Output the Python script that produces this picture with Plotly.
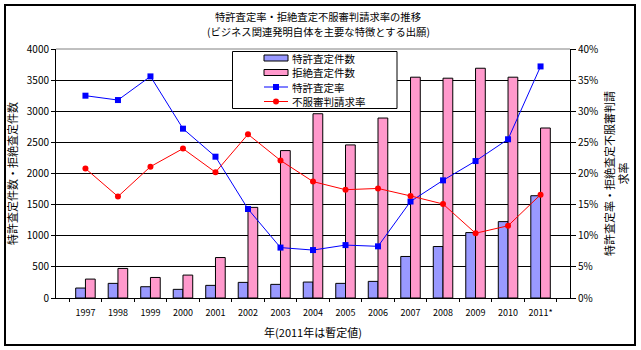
import plotly.graph_objects as go

years = ["1997", "1998", "1999", "2000", "2001", "2002", "2003", "2004",
         "2005", "2006", "2007", "2008", "2009", "2010", "2011*"]
grant_counts = [160, 235, 181, 139, 203, 251, 219, 256, 235, 267, 667, 827, 1051, 1227, 1643]
reject_counts = [304, 475, 330, 368, 650, 1456, 2368, 2960, 2459, 2891, 3547, 3531, 3691, 3547, 2731]
grant_rate = [32.5, 31.8, 35.6, 27.2, 22.7, 14.3, 8.1, 7.7, 8.5, 8.3, 15.5, 18.9, 22.0, 25.5, 37.2]
appeal_rate = [20.8, 16.3, 21.1, 24.0, 20.2, 26.3, 22.1, 18.7, 17.4, 17.6, 16.4, 15.1, 10.4, 11.6, 16.6]
series_names = ["特許査定件数", "拒絶査定件数", "特許査定率", "不服審判請求率"]

FONT = "Noto Sans CJK JP"
W, H = 641, 350
L, R, T, B = 56, 71, 49, 52
pw, ph = W - L - R, H - T - B

BLUE_BAR, PINK_BAR = "#9999FF", "#FF99CC"
BLUE, RED = "#0000FF", "#FF0000"

fig = go.Figure()
fig.add_trace(go.Bar(x=years, y=grant_counts, name=series_names[0],
                     marker=dict(color=BLUE_BAR, line=dict(color="black", width=1))))
fig.add_trace(go.Bar(x=years, y=reject_counts, name=series_names[1],
                     marker=dict(color=PINK_BAR, line=dict(color="black", width=1))))
fig.add_trace(go.Scatter(x=years, y=grant_rate, name=series_names[2], yaxis="y2",
                         mode="lines+markers", line=dict(color=BLUE, width=1),
                         marker=dict(symbol="square", size=6, color=BLUE)))
fig.add_trace(go.Scatter(x=years, y=appeal_rate, name=series_names[3], yaxis="y2",
                         mode="lines+markers", line=dict(color=RED, width=1),
                         marker=dict(symbol="circle", size=6, color=RED)))

def px(x):
    return (x - L) / pw

def py(y):
    return (H - B - y) / ph

rows_y = [58, 72.5, 87, 101.5]

shapes = [
    dict(type="rect", xref="paper", yref="paper",
         x0=px(5), x1=px(635), y0=py(345), y1=py(5),
         line=dict(color="black", width=2), fillcolor="rgba(0,0,0,0)", layer="above"),
    dict(type="line", xref="paper", yref="paper", x0=0, x1=1, y0=1, y1=1,
         line=dict(color="#808080", width=1), layer="above"),
    # legend box
    dict(type="rect", xref="paper", yref="paper",
         x0=px(232.5), x1=px(397), y0=py(108.5), y1=py(51.5),
         line=dict(color="black", width=1), fillcolor="white", layer="above"),
]
annotations = [
    dict(text="特許査定率・拒絶査定不服審判請求率の推移", xref="paper", yref="paper",
         x=px(318), y=py(16.5), xanchor="center", yanchor="middle", showarrow=False,
         borderpad=0, font=dict(family=FONT, size=10.3)),
    dict(text="(ビジネス関連発明自体を主要な特徴とする出願)", xref="paper", yref="paper",
         x=px(318), y=py(31.5), xanchor="center", yanchor="middle", showarrow=False,
         borderpad=0, font=dict(family=FONT, size=10.3)),
]

sx0, sx1 = 264, 288
for i, col in enumerate([BLUE_BAR, PINK_BAR]):
    yc = rows_y[i]
    shapes.append(dict(type="rect", xref="paper", yref="paper",
                       x0=px(sx0), x1=px(sx1), y0=py(yc + 3), y1=py(yc - 3),
                       line=dict(color="black", width=1), fillcolor=col, layer="above"))
for i, (col, sym) in enumerate([(BLUE, "square"), (RED, "circle")]):
    yc = rows_y[i + 2]
    shapes.append(dict(type="line", xref="paper", yref="paper",
                       x0=px(sx0), x1=px(sx1), y0=py(yc), y1=py(yc),
                       line=dict(color=col, width=1), layer="above"))
    mc = (sx0 + sx1) / 2
    shapes.append(dict(type="rect" if sym == "square" else "circle", xref="paper", yref="paper",
                       x0=px(mc - 3), x1=px(mc + 3), y0=py(yc + 3), y1=py(yc - 3),
                       line=dict(color=col, width=0), fillcolor=col, layer="above"))
for i, name in enumerate(series_names):
    annotations.append(dict(text=name, xref="paper", yref="paper",
                            x=px(291), y=py(rows_y[i]), xanchor="left", yanchor="middle",
                            showarrow=False, borderpad=0, font=dict(family=FONT, size=10.5)))

fig.update_layout(
    width=W, height=H,
    margin=dict(l=L, r=R, t=T, b=B),
    paper_bgcolor="white", plot_bgcolor="white",
    font=dict(family=FONT, size=10, color="black"),
    barmode="group", bargap=0.4, bargroupgap=0,
    showlegend=False,
    xaxis=dict(type="category", showline=True, linecolor="black", linewidth=1,
               ticks="outside", ticklen=3, tickcolor="black", tickson="boundaries",
               tickangle=0, tickfont=dict(size=9), ticklabelstandoff=6,
               title=dict(text="年(2011年は暫定値)", font=dict(size=11), standoff=11)),
    yaxis=dict(range=[0, 4000], dtick=500, showline=True, linecolor="black", linewidth=1,
               ticks="outside", ticklen=4, tickcolor="black",
               showgrid=True, gridcolor="black", gridwidth=1, zeroline=False,
               tickfont=dict(size=10),
               title=dict(text="特許査定件数・拒絶査定件数", font=dict(size=11), standoff=6)),
    yaxis2=dict(range=[0, 40], dtick=5, overlaying="y", side="right",
                showline=True, linecolor="black", linewidth=1,
                ticks="outside", ticklen=5, tickcolor="black",
                ticksuffix="%", showgrid=False, zeroline=False,
                tickfont=dict(size=10),
                title=dict(text="特許査定率・拒絶査定不服審判請<br>求率", font=dict(size=11), standoff=8)),
    annotations=annotations,
    shapes=shapes,
)

fig.write_html("out.html")
